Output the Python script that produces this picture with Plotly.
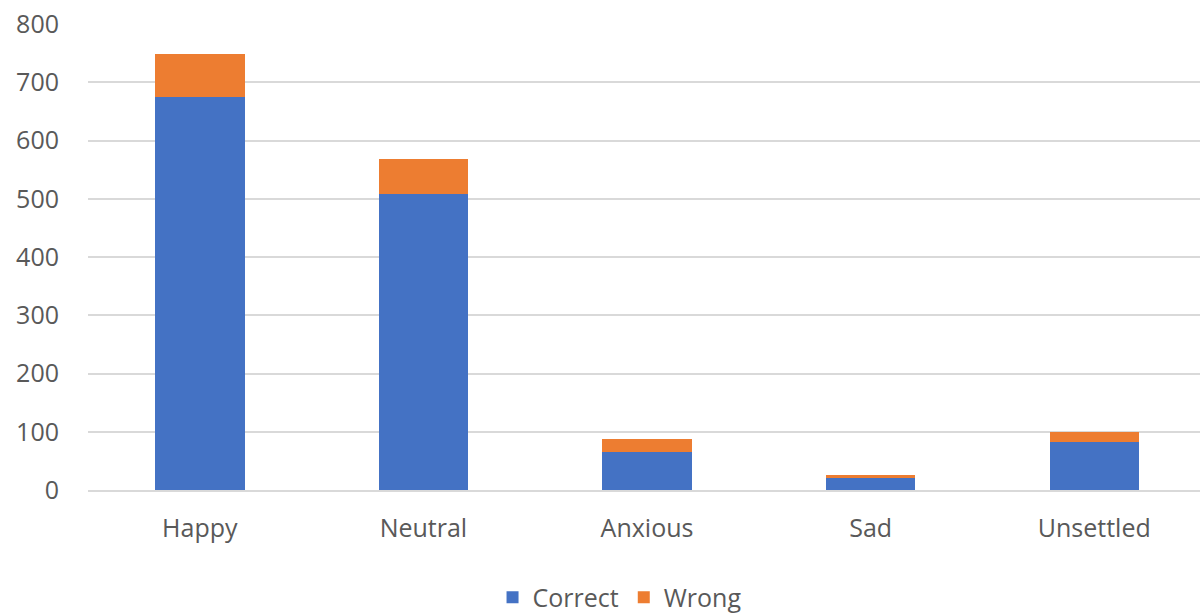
import plotly.graph_objects as go

categories = ["Happy", "Neutral", "Anxious", "Sad", "Unsettled"]
correct = [675, 509, 65, 20, 82]
wrong = [73, 59, 22, 5, 18]

fig = go.Figure()
fig.add_bar(name="Correct", x=categories, y=correct, marker_color="#4472C4",
            marker_line_width=0)
fig.add_bar(name="Wrong", x=categories, y=wrong, marker_color="#ED7D31",
            marker_line_width=0)

font_color = "#595959"
fig.update_layout(
    barmode="stack",
    bargap=0.6,
    width=1200, height=616,
    margin=dict(l=88, r=0, t=24, b=126, autoexpand=False),
    plot_bgcolor="white", paper_bgcolor="white",
    font=dict(family="Open Sans", size=25, color=font_color),
    legend=dict(orientation="h", x=0.478, xanchor="center",
                yref="container", y=0.03, yanchor="middle",
                font=dict(size=25, color=font_color), itemsizing="constant",
                traceorder="normal"),
    xaxis=dict(range=[-0.5, 4.473], showgrid=False, showline=True,
               linecolor="#D9D9D9", linewidth=2,
               ticks="", ticklabelstandoff=15,
               tickfont=dict(size=25, color=font_color)),
    yaxis=dict(range=[0, 800], dtick=100, showgrid=True, gridcolor="#D9D9D9",
               gridwidth=2, zeroline=False, ticks="", ticklabelstandoff=28,
               tickfont=dict(size=25, color=font_color)),
)

fig.write_html("out.html")
